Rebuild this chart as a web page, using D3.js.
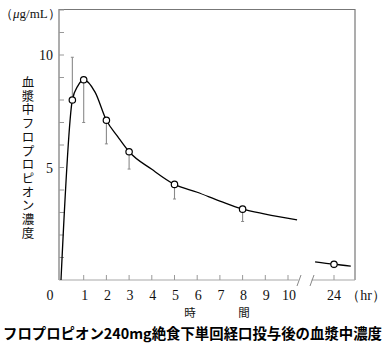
<!DOCTYPE html>
<html>
<head>
<meta charset="utf-8">
<script src="https://cdn.jsdelivr.net/npm/d3@7"></script>
<style>
  html, body { margin: 0; padding: 0; background: #fff; }
  svg { display: block; }
</style>
</head>
<body>
<svg id="chart" width="385" height="346"></svg>
<script>
// Mean plasma concentration (µg/mL) at each sampling time (hr)
const sampleTimes = [0.5, 1, 2, 3, 5, 8];
const meanConc    = [8.0, 8.9, 7.1, 5.7, 4.25, 3.15];
// End of the SD bar drawn from each mean
const sdEnd       = [9.9, 7.0, 6.05, 4.93, 3.6, 2.6];

// Fitted concentration curve, 0–10 hr section
const curveTimes = [0, 0.5, 0.75, 1, 1.5, 2, 2.5, 3, 4, 5, 6, 7, 8, 9, 10.4];
const curveConc  = [0, 8.0, 8.64, 8.9, 8.35, 7.1, 6.37, 5.7, 4.92, 4.25, 3.9, 3.51, 3.15, 2.93, 2.67];

// 24 hr section after the axis break
const lateTime   = [24];
const lateConc   = [0.7];
const lateSdEnd  = [0.55];
const lateCurveTimes = [22.65, 24, 25.2];
const lateCurveConc  = [0.81, 0.7, 0.62];

const xTickValues = [1, 2, 3, 4, 5, 6, 7, 8, 9, 10];
const yTickValues = d3.range(1, 13, 1);
const yLabelValues = [5, 10];

const yTitle = "血漿中フロプロピオン濃度";
const xTitle = ["時", "間"];
const chartTitle = "フロプロピオン240mg絶食下単回経口投与後の血漿中濃度";

const svg = d3.select("#chart");
const serif = "'Liberation Serif', 'DejaVu Serif', serif";
const jp = "'Noto Sans CJK JP', sans-serif";

const box = { left: 59, right: 355, top: 9.5, bottom: 280 };

const x = d3.scaleLinear().domain([0, 10]).range([61, 288]);
const x2 = d3.scaleLinear().domain([22.5, 25.5]).range([313, 355]);
const y = d3.scaleLinear().domain([0, 12]).range([280, 10]);

// Frame: left, top and right lines
svg.append("path")
  .attr("d", `M${box.left},${box.bottom}V${box.top}H${box.right}V${box.bottom}`)
  .attr("fill", "none").attr("stroke", "#777").attr("stroke-width", 1.2);

// Bottom axis, broken between 10 and 24 hr
const axisColor = "#a8a8a8";
svg.append("line").attr("x1", box.left).attr("x2", 298.5)
  .attr("y1", box.bottom).attr("y2", box.bottom)
  .attr("stroke", axisColor).attr("stroke-width", 1.2);
svg.append("line").attr("x1", 311.5).attr("x2", box.right)
  .attr("y1", box.bottom).attr("y2", box.bottom)
  .attr("stroke", axisColor).attr("stroke-width", 1.2);
[299, 312].forEach(bx => {
  svg.append("line")
    .attr("x1", bx - 2).attr("y1", box.bottom + 6)
    .attr("x2", bx + 2).attr("y2", box.bottom - 5)
    .attr("stroke", "#888").attr("stroke-width", 1);
});

// x ticks (inward)
const tickLabelY = 300;
const gx = svg.append("g");
xTickValues.forEach(d => {
  gx.append("line").attr("x1", x(d)).attr("x2", x(d))
    .attr("y1", box.bottom).attr("y2", box.bottom - 5)
    .attr("stroke", "#999").attr("stroke-width", 1);
  gx.append("text").attr("x", x(d) + 1).attr("y", tickLabelY)
    .attr("text-anchor", "middle")
    .attr("font-family", serif).attr("font-size", 14).attr("fill", "#111")
    .text(d);
});
lateTime.forEach(d => {
  gx.append("line").attr("x1", x2(d)).attr("x2", x2(d))
    .attr("y1", box.bottom).attr("y2", box.bottom - 5)
    .attr("stroke", "#999").attr("stroke-width", 1);
  gx.append("text").attr("x", x2(d)).attr("y", tickLabelY).attr("text-anchor", "middle")
    .attr("font-family", serif).attr("font-size", 14).attr("fill", "#111")
    .text(d);
});
gx.append("text").attr("x", 50).attr("y", tickLabelY).attr("text-anchor", "middle")
  .attr("font-family", serif).attr("font-size", 14).attr("fill", "#111").text("0");
gx.append("text").attr("x", 366).attr("y", tickLabelY).attr("text-anchor", "middle")
  .attr("font-family", serif).attr("font-size", 14).attr("fill", "#111").text("（hr）");

// x title
svg.append("text").attr("x", 190).attr("y", 317).attr("text-anchor", "middle")
  .attr("font-family", jp).attr("font-size", 11.5).attr("fill", "#111")
  .text(xTitle[0]);
svg.append("text").attr("x", 244).attr("y", 317).attr("text-anchor", "middle")
  .attr("font-family", jp).attr("font-size", 11.5).attr("fill", "#111")
  .text(xTitle[1]);

// y ticks (inward)
const gy = svg.append("g");
yTickValues.forEach(d => {
  gy.append("line").attr("x1", box.left).attr("x2", box.left + 5)
    .attr("y1", y(d)).attr("y2", y(d))
    .attr("stroke", "#999").attr("stroke-width", 1);
});
yLabelValues.forEach(d => {
  gy.append("text").attr("x", 53).attr("y", y(d) + 5).attr("text-anchor", "end")
    .attr("font-family", serif).attr("font-size", 14).attr("fill", "#111")
    .text(d);
});

// Unit label
const unit = svg.append("text").attr("x", 0).attr("y", 18)
  .attr("font-family", serif).attr("font-size", 13).attr("fill", "#111");
unit.append("tspan").text("（");
unit.append("tspan").attr("font-style", "italic").text("μ");
unit.append("tspan").text("g/mL）");

// Vertical y title, one character per row
const gt = svg.append("g");
Array.from(yTitle).forEach((ch, i) => {
  gt.append("text").attr("x", 28).attr("y", 87 + i * 13.7)
    .attr("text-anchor", "middle")
    .attr("font-family", jp).attr("font-size", 12.5).attr("fill", "#111")
    .text(ch);
});

// Chart title
svg.append("text").attr("x", 192.5).attr("y", 339).attr("text-anchor", "middle")
  .attr("font-family", jp).attr("font-weight", "bold").attr("font-size", 14.4)
  .attr("fill", "#000").text(chartTitle);

// SD bars
const sdColor = "#8a8a8a";
const bars = sampleTimes.map((t, i) => ({ px: x(t), m: meanConc[i], e: sdEnd[i] }))
  .concat(lateTime.map((t, i) => ({ px: x2(t), m: lateConc[i], e: lateSdEnd[i] })));
const gBars = svg.append("g");
bars.forEach(b => {
  gBars.append("line").attr("x1", b.px).attr("x2", b.px)
    .attr("y1", y(b.m)).attr("y2", y(b.e))
    .attr("stroke", sdColor).attr("stroke-width", 1.1);
  gBars.append("line").attr("x1", b.px - 1.5).attr("x2", b.px + 1.5)
    .attr("y1", y(b.e)).attr("y2", y(b.e))
    .attr("stroke", sdColor).attr("stroke-width", 1);
});

// Concentration curves
const line1 = d3.line().x(d => x(d[0])).y(d => y(d[1])).curve(d3.curveMonotoneX);
svg.append("path")
  .attr("d", line1(curveTimes.map((t, i) => [t, curveConc[i]])))
  .attr("fill", "none").attr("stroke", "#000").attr("stroke-width", 1.3);
const line2 = d3.line().x(d => x2(d[0])).y(d => y(d[1])).curve(d3.curveMonotoneX);
svg.append("path")
  .attr("d", line2(lateCurveTimes.map((t, i) => [t, lateCurveConc[i]])))
  .attr("fill", "none").attr("stroke", "#000").attr("stroke-width", 1.3);

// Mean points
const pts = sampleTimes.map((t, i) => [x(t), y(meanConc[i])])
  .concat(lateTime.map((t, i) => [x2(t), y(lateConc[i])]));
const gp = svg.append("g");
pts.forEach(p => {
  gp.append("circle").attr("cx", p[0]).attr("cy", p[1]).attr("r", 3.2)
    .attr("fill", "#fff").attr("stroke", "#000").attr("stroke-width", 1.2);
});
</script>
</body>
</html>
